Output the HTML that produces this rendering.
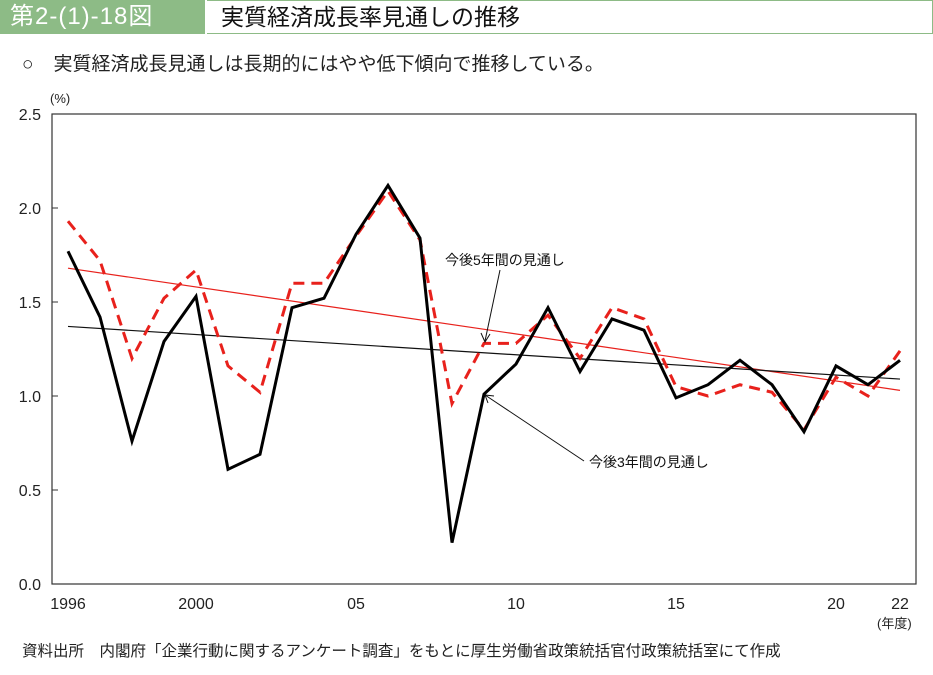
<!DOCTYPE html>
<html><head><meta charset="utf-8"><style>
body{margin:0;width:933px;height:675px;background:#fff;font-family:"Liberation Sans","Noto Sans CJK JP",sans-serif;position:relative;overflow:hidden}
.a{position:absolute;white-space:nowrap}
</style></head><body>
<div class="a" style="left:0;top:0;width:205px;height:34px;background:#8dbb86;color:#fff;font-size:24px;line-height:34px;padding-left:10px;box-sizing:border-box;letter-spacing:1px">第2-(1)-18図</div>
<div class="a" style="left:207px;top:0;width:726px;height:34px;border:1px solid #8dbb86;border-left:none;box-sizing:border-box;font-size:23px;line-height:32px;padding-left:14px;color:#111">実質経済成長率見通しの推移</div>
<div class="a" style="left:22px;top:49px;font-size:19px;color:#222">○<span style="margin-left:20px">実質経済成長見通しは長期的にはやや低下傾向で推移している。</span></div>
<svg class="a" style="left:0;top:0" width="933" height="675" id="chart"></svg>
<div class="a" style="left:22px;top:639px;font-size:15.5px;color:#222">資料出所　内閣府「企業行動に関するアンケート調査」をもとに厚生労働省政策統括官付政策統括室にて作成</div>
<script>
const years=[1996,1997,1998,1999,2000,2001,2002,2003,2004,2005,2006,2007,2008,2009,2010,2011,2012,2013,2014,2015,2016,2017,2018,2019,2020,2021,2022];
const threeYear=[1.77,1.42,0.76,1.29,1.53,0.61,0.69,1.47,1.52,1.86,2.12,1.84,0.22,1.01,1.17,1.47,1.13,1.41,1.35,0.99,1.06,1.19,1.06,0.81,1.16,1.06,1.19];
const fiveYear=[1.93,1.72,1.20,1.52,1.67,1.16,1.02,1.60,1.60,1.85,2.09,1.83,0.96,1.28,1.28,1.43,1.20,1.47,1.41,1.05,1.00,1.06,1.02,0.82,1.10,1.00,1.24];
const trend3=[1.37,1.09];
const trend5=[1.68,1.03];
const yTicks=[0,0.5,1.0,1.5,2.0,2.5];
const yTickLabels=["0.0","0.5","1.0","1.5","2.0","2.5"];
const xTickYears=[1996,2000,2005,2010,2015,2020,2022];
const xTickLabels=["1996","2000","05","10","15","20","22"];
const NS="http://www.w3.org/2000/svg";
const svg=document.getElementById('chart');
const L=52,R=916,T=114,B=584;
const x=yr=>68+(yr-1996)*32;
const y=v=>B-(v/2.5)*(B-T);
function mk(t,a,p){const e=document.createElementNS(NS,t);for(const k in a)e.setAttribute(k,a[k]);(p||svg).appendChild(e);return e;}
let f=mk('rect',{x:L,y:T,width:R-L,height:B-T,fill:'none',stroke:'#333','stroke-width':1.2});


yTicks.forEach((v,i)=>{
 mk('line',{x1:L,x2:L+6,y1:y(v),y2:y(v),stroke:'#333'});
 const t=mk('text',{x:L-11,y:y(v)+6,'text-anchor':'end','font-size':16,fill:'#222'});t.textContent=yTickLabels[i];
 
 
});
xTickYears.forEach((yr,i)=>{
 const t=mk('text',{x:x(yr),y:609,'text-anchor':'middle','font-size':16,fill:'#222'});t.textContent=xTickLabels[i];
 
 
});
let u=mk('text',{x:50,y:103,'font-size':13,fill:'#222'});u.textContent='(%)';


let u2=mk('text',{x:877,y:628,'font-size':13,fill:'#222'});u2.textContent='(年度)';


let t5=mk('line',{x1:x(1996),y1:y(trend5[0]),x2:x(2022),y2:y(trend5[1]),stroke:'#e8211c','stroke-width':1.2});


let t3=mk('line',{x1:x(1996),y1:y(trend3[0]),x2:x(2022),y2:y(trend3[1]),stroke:'#111','stroke-width':1.2});


const pts=a=>a.map((v,i)=>x(years[i])+','+y(v)).join(' ');
let l5=mk('polyline',{points:pts(fiveYear),fill:'none',stroke:'#e8211c','stroke-width':3,'stroke-dasharray':'11,7'});


let l3=mk('polyline',{points:pts(threeYear),fill:'none',stroke:'#000','stroke-width':3});


mk('line',{x1:500,y1:270,x2:485,y2:341,stroke:'#111','stroke-width':1});
mk('path',{d:'M481,333 L485,342 L490,334',fill:'none',stroke:'#111'});
let a5=mk('text',{x:445,y:265,'font-size':14,fill:'#111'});a5.textContent='今後5年間の見通し';


mk('line',{x1:584,y1:461,x2:485,y2:395,stroke:'#111','stroke-width':1});
mk('path',{d:'M488,403 L485,395 L494,396',fill:'none',stroke:'#111'});
let a3=mk('text',{x:589,y:467,'font-size':14,fill:'#111'});a3.textContent='今後3年間の見通し';


</script>
</body></html>
